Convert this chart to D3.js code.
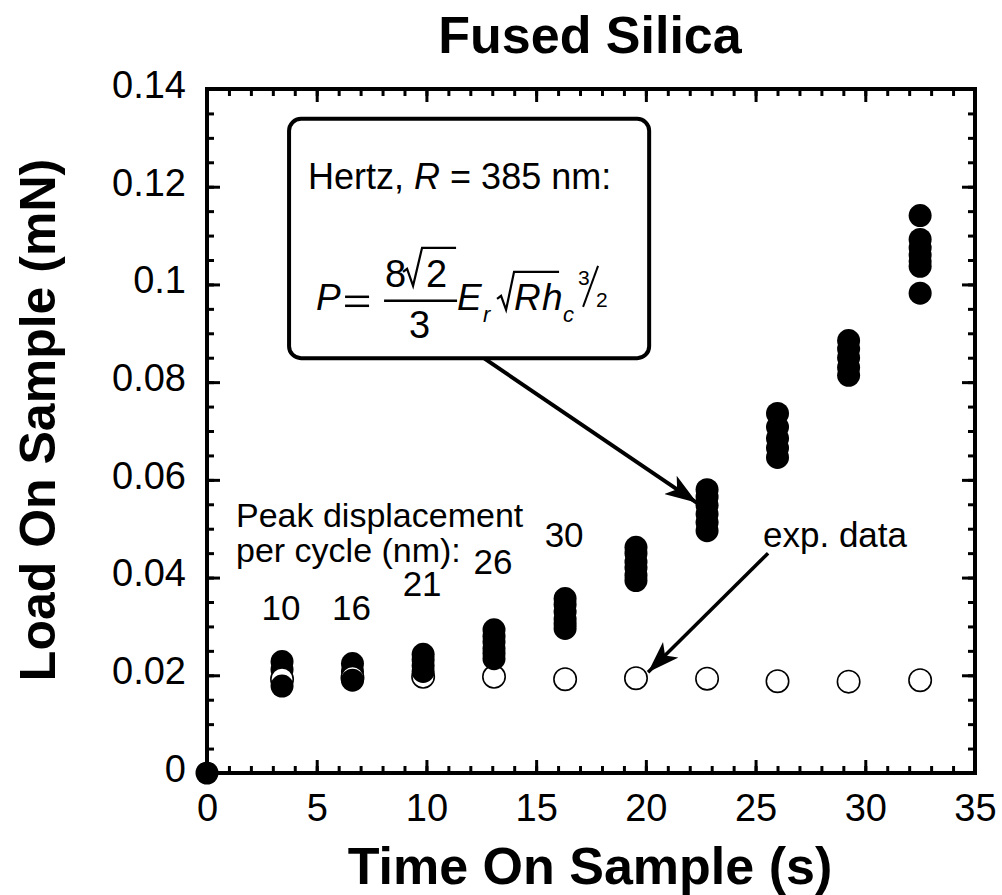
<!DOCTYPE html>
<html>
<head>
<meta charset="utf-8">
<script src="https://cdn.jsdelivr.net/npm/d3@7"></script>
<style>
  body { margin: 0; background: #fff; }
  svg { font-family: "Liberation Sans", Arial, sans-serif; }
</style>
</head>
<body>
<svg id="chart" width="1002" height="895"></svg>
<script>
// cycle times (s) and measured loads (mN)
const cycleTimes = [3.42, 6.63, 9.85, 13.08, 16.32, 19.55, 22.79, 26.0, 29.24, 32.5];
const peakDisp = ["10", "16", "21", "26", "30"];
const peakDispLoad = [0.0314, 0.0314, 0.0363, 0.0408, 0.0463];
const filledLoads = [
  [0.0228, 0.0212, 0.0178],
  [0.0224, 0.0208, 0.019],
  [0.0243, 0.0232, 0.022, 0.0208],
  [0.0293, 0.028, 0.0268, 0.0255, 0.0245, 0.0234],
  [0.0357, 0.0345, 0.033, 0.0315, 0.0305, 0.0296],
  [0.0462, 0.045, 0.0432, 0.042, 0.0405, 0.0394],
  [0.058, 0.0565, 0.0548, 0.053, 0.0513, 0.0496],
  [0.0736, 0.0708, 0.0685, 0.0665, 0.0646],
  [0.0885, 0.0868, 0.085, 0.083, 0.0814],
  [0.1141, 0.1092, 0.1075, 0.106, 0.1048, 0.1037, 0.0982]
];
const openLoads = [0.0192, 0.0195, 0.0197, 0.0197, 0.0192, 0.0194, 0.0193, 0.0188, 0.0187, 0.019];
const xTicks = [0, 5, 10, 15, 20, 25, 30, 35];
const yTicks = [0, 0.02, 0.04, 0.06, 0.08, 0.1, 0.12, 0.14];

const svg = d3.select("#chart");
const pLeft = 207, pRight = 975, pTop = 89, pBottom = 773;

const x = d3.scaleLinear().domain([0, 35]).range([pLeft, pRight]);
const y = d3.scaleLinear().domain([0, 0.14]).range([pBottom, pTop]);

// title + axis labels
svg.append("text")
  .attr("x", 590).attr("y", 53)
  .attr("text-anchor", "middle")
  .attr("font-size", 52).attr("font-weight", "bold")
  .text("Fused Silica");

svg.append("text")
  .attr("x", 590).attr("y", 884)
  .attr("text-anchor", "middle")
  .attr("font-size", 52).attr("font-weight", "bold")
  .text("Time On Sample (s)");

svg.append("text")
  .attr("transform", "translate(55,420) rotate(-90)")
  .attr("text-anchor", "middle")
  .attr("font-size", 50).attr("font-weight", "bold")
  .text("Load On Sample (mN)");

// axes, ticks pointing inward on all four sides
const xMinor = d3.range(0, 35.01, 1);
const yMinor = d3.range(0, 0.1401, 0.005);

function styleAxis(g) {
  g.selectAll(".tick line").attr("stroke", "#000").attr("stroke-width", 3);
  g.select(".domain").remove();
}

const gx = svg.append("g").attr("transform", `translate(0,${pBottom})`);
gx.call(d3.axisBottom(x).tickValues(xMinor).tickSize(-7).tickFormat("")).call(styleAxis);
const gx2 = svg.append("g").attr("transform", `translate(0,${pBottom})`);
gx2.call(d3.axisBottom(x).tickValues(xTicks).tickSize(-13).tickPadding(21).tickFormat(d3.format("d")))
  .call(styleAxis);
gx2.selectAll("text").attr("font-size", 38).attr("fill", "#000").attr("dy", "0.71em")
  .attr("font-family", "Liberation Sans, Arial, sans-serif");

const gxt = svg.append("g").attr("transform", `translate(0,${pTop})`);
gxt.call(d3.axisTop(x).tickValues(xMinor).tickSize(-7).tickFormat("")).call(styleAxis);
const gxt2 = svg.append("g").attr("transform", `translate(0,${pTop})`);
gxt2.call(d3.axisTop(x).tickValues(xTicks).tickSize(-13).tickFormat("")).call(styleAxis);

const gy = svg.append("g").attr("transform", `translate(${pLeft},0)`);
gy.call(d3.axisLeft(y).tickValues(yMinor).tickSize(-7).tickFormat("")).call(styleAxis);
const gy2 = svg.append("g").attr("transform", `translate(${pLeft},0)`);
gy2.call(d3.axisLeft(y).tickValues(yTicks).tickSize(-13).tickPadding(21)
    .tickFormat(d => String(+d.toFixed(2))))
  .call(styleAxis);
gy2.selectAll("text").attr("font-size", 38).attr("fill", "#000").attr("dy", "0.22em")
  .attr("font-family", "Liberation Sans, Arial, sans-serif");

const gyr = svg.append("g").attr("transform", `translate(${pRight},0)`);
gyr.call(d3.axisRight(y).tickValues(yMinor).tickSize(-7).tickFormat("")).call(styleAxis);
const gyr2 = svg.append("g").attr("transform", `translate(${pRight},0)`);
gyr2.call(d3.axisRight(y).tickValues(yTicks).tickSize(-13).tickFormat("")).call(styleAxis);

svg.append("rect")
  .attr("x", pLeft).attr("y", pTop)
  .attr("width", pRight - pLeft).attr("height", pBottom - pTop)
  .attr("fill", "none").attr("stroke", "#000").attr("stroke-width", 4);

// points
const filled = [];
cycleTimes.forEach((t, i) => {
  filledLoads[i].forEach(v => filled.push({ t: t, v: v, i: i }));
});
// upper points of the first two cycles sit under the open markers
const under = filled.filter(d => d.i < 2 && d.v > openLoads[d.i]);
const over = filled.filter(d => !(d.i < 2 && d.v > openLoads[d.i]));

const pts = svg.append("g");
pts.selectAll(".fu").data(under).join("circle")
  .attr("class", "fu")
  .attr("cx", d => x(d.t)).attr("cy", d => y(d.v)).attr("r", 11.5).attr("fill", "#000");
pts.selectAll(".op").data(cycleTimes).join("circle")
  .attr("class", "op")
  .attr("cx", d => x(d)).attr("cy", (d, i) => y(openLoads[i])).attr("r", 11.2)
  .attr("fill", "#fff").attr("stroke", "#000").attr("stroke-width", 1.6);
pts.selectAll(".fo").data(over).join("circle")
  .attr("class", "fo")
  .attr("cx", d => x(d.t)).attr("cy", d => y(d.v)).attr("r", 11.5).attr("fill", "#000");
pts.append("circle").attr("cx", x(0)).attr("cy", y(0)).attr("r", 11.5).attr("fill", "#000");

// peak displacement labels
svg.selectAll(".pd").data(peakDisp).join("text")
  .attr("class", "pd")
  .attr("x", (d, i) => x(cycleTimes[i]) - 1)
  .attr("y", (d, i) => y(peakDispLoad[i]))
  .attr("text-anchor", "middle").attr("font-size", 35)
  .text(d => d);

svg.append("text").attr("x", 236).attr("y", 527).attr("font-size", 34).text("Peak displacement");
svg.append("text").attr("x", 236).attr("y", 562).attr("font-size", 34).text("per cycle (nm):");
svg.append("text").attr("x", 763).attr("y", 547).attr("font-size", 35).text("exp. data");

// arrows
svg.append("defs").append("marker")
  .attr("id", "ah").attr("viewBox", "0 -11 32 22")
  .attr("refX", 32).attr("refY", 0)
  .attr("markerWidth", 32).attr("markerHeight", 22)
  .attr("markerUnits", "userSpaceOnUse").attr("orient", "auto")
  .append("path").attr("d", "M0,-11L32,0L0,11L8,0Z").attr("fill", "#000");

svg.append("line")
  .attr("x1", x(12.65)).attr("y1", y(0.0848))
  .attr("x2", x(22.33)).attr("y2", y(0.0553))
  .attr("stroke", "#000").attr("stroke-width", 4).attr("marker-end", "url(#ah)");
svg.append("line")
  .attr("x1", x(25.57)).attr("y1", y(0.0450))
  .attr("x2", x(20.1)).attr("y2", y(0.0206))
  .attr("stroke", "#000").attr("stroke-width", 3.5).attr("marker-end", "url(#ah)");

// annotation box with Hertz formula
const bx = x(3.74), by = y(0.1339);
const bw = x(20.15) - bx, bh = y(0.0849) - by;
const box = svg.append("g").attr("transform", `translate(${bx},${by})`);
box.append("rect").attr("width", bw).attr("height", bh).attr("rx", 12)
  .attr("fill", "#fff").attr("stroke", "#000").attr("stroke-width", 4);

const hz = box.append("text").attr("x", 19).attr("y", 70).attr("font-size", 36);
hz.append("tspan").text("Hertz, ");
hz.append("tspan").attr("font-style", "italic").text("R");
hz.append("tspan").text(" = 385 nm:");

function txt(s, dx, dy, size, italic) {
  box.append("text").attr("x", dx).attr("y", dy).attr("font-size", size)
    .attr("font-style", italic ? "italic" : "normal").text(s);
}
function ln(x1, y1, x2, y2, w) {
  box.append("line").attr("x1", x1).attr("y1", y1).attr("x2", x2).attr("y2", y2)
    .attr("stroke", "#000").attr("stroke-width", w);
}
function path(d) {
  box.append("path").attr("d", d).attr("fill", "none").attr("stroke", "#000")
    .attr("stroke-width", 2.2).attr("stroke-linejoin", "miter");
}
txt("P", 27, 191, 37, true);
ln(56, 178, 80, 178, 2.5);
ln(56, 187, 80, 187, 2.5);
ln(95, 182, 168, 182, 2.5);
txt("8", 96, 168, 38, false);
path("M114,153 L118,150 L124,167 L133,129 L167,129");
txt("2", 137, 168, 38, false);
txt("3", 120, 219, 38, false);
txt("E", 168, 191, 37, true);
txt("r", 194, 203, 22, true);
path("M208,180 L212,177 L217,191 L225,153 L270,153");
txt("R", 225, 191, 37, true);
txt("h", 253, 191, 37, true);
txt("c", 274, 203, 22, true);
txt("3", 289, 166, 21, false);
ln(309, 147, 294, 188, 2);
txt("2", 307, 188, 21, false);
</script>
</body>
</html>
